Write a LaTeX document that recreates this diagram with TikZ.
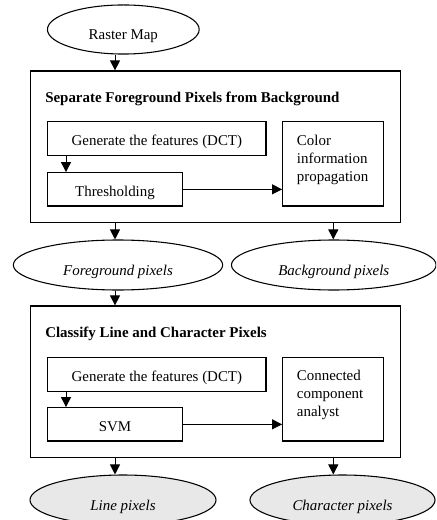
\documentclass[tikz,border=0pt]{standalone}
\usepackage{fontspec}
\setmainfont{Liberation Serif}
\usetikzlibrary{shapes.geometric,arrows.meta}

\begin{document}
\begin{tikzpicture}[x=0.75pt,y=-0.75pt,
  font=\fontsize{11.2}{13.5}\selectfont,
  frame/.style={draw,line width=0.9pt,inner sep=0pt},
  label/.style={frame,text height=10.5pt,text depth=0pt},
  oval/.style={ellipse,draw,line width=0.8pt,inner sep=0pt,minimum height=37.5pt,
    text height=15pt,text depth=0pt},
  result/.style={oval,fill=gray!18},
  arr/.style={line width=0.75pt,-{Triangle[length=7.5pt,width=7.5pt]}},
  heading/.style={anchor=base west,inner sep=0pt,font=\fontsize{11.2}{13.5}\selectfont\bfseries},
  note/.style={anchor=base west,inner sep=0pt,align=left}
]
\useasboundingbox (0,0) rectangle (436,520);
\clip (0,0) rectangle (436,520);

% column positions of the vertical connectors
\coordinate (cL) at (115,0);
\coordinate (cR) at (333.3,0);
\coordinate (cA) at (66,0);

% input
\node[oval,minimum width=113.8pt,minimum height=36.8pt] (raster) at (123.3,29.5) {Raster Map};

% stage 1: foreground / background separation
\node[frame,minimum width=277.5pt,minimum height=113.8pt] (stageA) at (215.7,146.85) {};
\node[heading] (titleA) at (45,102.3) {Separate Foreground Pixels from Background};
\node[label,minimum width=163.7pt,minimum height=25.2pt] (genA) at (156.85,138.5) {Generate the features (DCT)};
\node[label,minimum width=101pt,minimum height=25pt] (thresh) at (115,189.35) {Thresholding};
\node[frame,minimum width=75.5pt,minimum height=63.2pt] (color) at (333,163.85) {};
% base west of a multi-line node sits on its last line
\node[note] (colorText) at (296.7,181.3) {Color\\information\\propagation};

% intermediate results
\node[oval,minimum width=157pt] (fg) at (118,265) {\itshape Foreground pixels};
\node[oval,minimum width=153.5pt] (bg) at (333.8,265) {\itshape Background pixels};

% stage 2: line / character classification
\node[frame,minimum width=277.5pt,minimum height=113.8pt] (stageB) at (215.7,381.85) {};
\node[heading] (titleB) at (45,337.3) {Classify Line and Character Pixels};
\node[label,minimum width=163.7pt,minimum height=25.8pt] (genB) at (156.85,374.5) {Generate the features (DCT)};
\node[label,minimum width=101pt,minimum height=25pt] (svm) at (115,424.35) {SVM};
\node[frame,minimum width=75.5pt,minimum height=62.8pt] (cca) at (333,399.15) {};
\node[note] (ccaText) at (296.7,416.3) {Connected\\component\\analyst};

% final results
\node[result,minimum width=139.5pt] (line) at (123,500) {\itshape Line pixels};
\node[result,minimum width=138.8pt] (char) at (342.5,500) {\itshape Character pixels};

% connectors
\draw[arr] (raster.south -| cL) -- (stageA.north -| cL);
\draw[arr] (genA.south -| cA) -- (thresh.north -| cA);
\draw[arr] (thresh.east) -- (thresh.east -| color.west);
\draw[arr] (stageA.south -| cL) -- (fg.north -| cL);
\draw[arr] (stageA.south -| cR) -- (bg.north -| cR);
\draw[arr] (fg.south -| cL) -- (stageB.north -| cL);
\draw[arr] (genB.south -| cA) -- (svm.north -| cA);
\draw[arr] (svm.east) -- (svm.east -| cca.west);
\draw[arr] (stageB.south -| cL) -- (line.north -| cL);
\draw[arr] (stageB.south -| cR) -- (char.north -| cR);
\end{tikzpicture}
\end{document}
